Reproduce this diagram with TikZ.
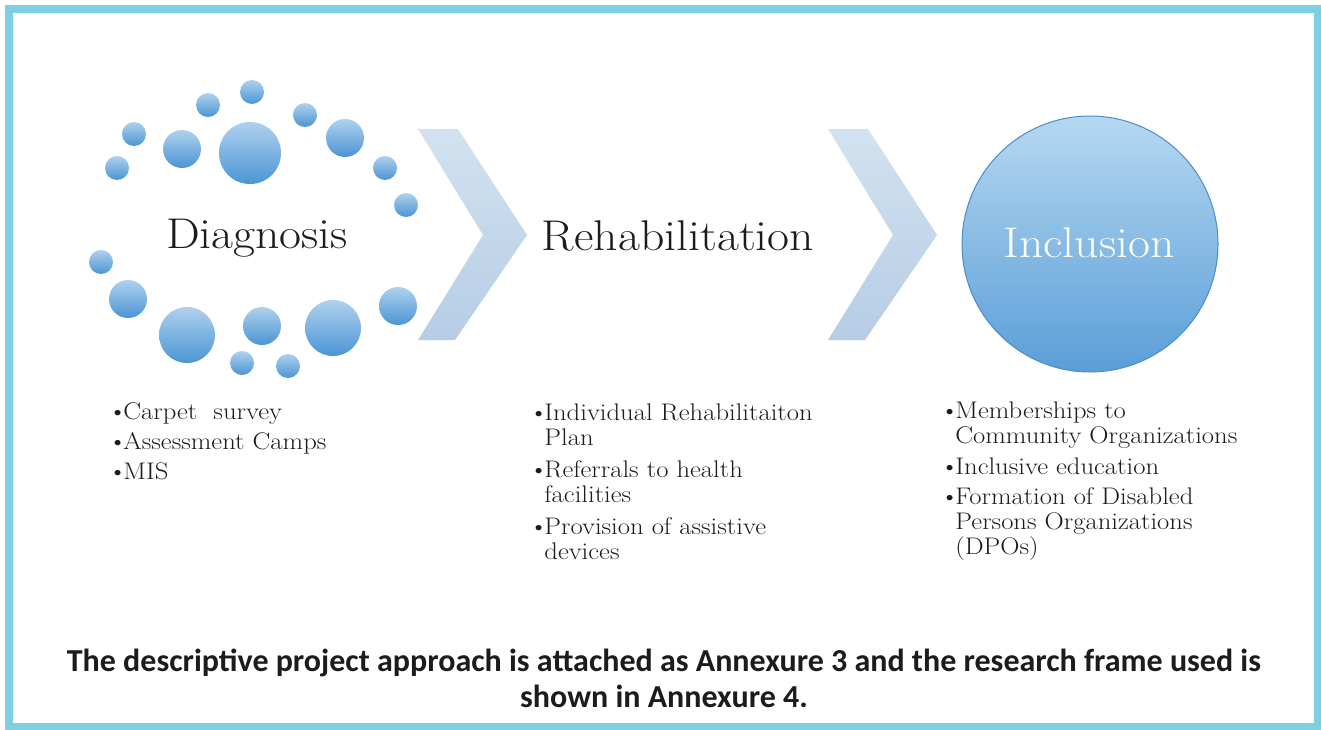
\documentclass[tikz,border=0pt]{standalone}
\usepackage{fontspec}
\newfontfamily\capfont{Carlito}
\newfontfamily\wideserif{Latin Modern Roman}[FakeStretch=1.11]
\usetikzlibrary{positioning}
\definecolor{framecol}{HTML}{7ECFE2}
\definecolor{bubtop}{HTML}{B0D1EE}
\definecolor{bubbot}{HTML}{4A95D4}
\definecolor{chevtop}{HTML}{D2E2F0}
\definecolor{chevbot}{HTML}{B6CDE6}
\definecolor{incltop}{HTML}{B6D8F1}
\definecolor{inclbot}{HTML}{5A9ED8}
\definecolor{inclrim}{HTML}{4C8CC9}
\definecolor{inktext}{HTML}{1C1C1C}
\tikzset{
 bubble/.style={top color=bubtop, bottom color=bubbot, draw=none},
 chevron/.style={top color=chevtop, bottom color=chevbot, draw=none},
 stage/.style={font=\wideserif\fontsize{43}{43}\selectfont, text=inktext, inner sep=0pt},
 points/.style={text=inktext, anchor=base west, inner sep=0pt},
}

\begin{document}
\begin{tikzpicture}[x=1pt,y=-1pt]
    \useasboundingbox (0,0) rectangle (1321,730);
    \fill[white] (0,0) rectangle (1321,730);
    \draw[framecol, line width=7.5pt] (9,9) rectangle (1318,727);

    % ring of bubbles round Diagnosis
    \foreach \x/\y/\r in {252/92/12, 208/105/12, 134/134/12, 117/168/12,
        182/149/19, 250/153/31, 305/115/12, 345/138/19, 385/168/12,
        406/205/12, 101/262/12, 128/299/19, 187/335/28, 262/326/19,
        333/328/28, 398/306/19, 242/363/12, 288/366/12}
        \shade[bubble] (\x,\y) circle (\r);

    % chevrons
    \shade[chevron] (418,129) -- (458,129) -- (527,235) -- (455,340)
        -- (418,340) -- (483,235) -- cycle;
    \shade[chevron] (828,129) -- (868,129) -- (937,235) -- (865,340)
        -- (828,340) -- (893,235) -- cycle;

    % big circle
    \shade[top color=incltop, bottom color=inclbot, draw=inclrim, line width=1pt]
        (1090,244) circle (128);

    \node[stage, anchor=base] (diag) at (257,248) {Diagnosis};
    \node[stage, anchor=base] (rehab) at (678,250) {Rehabilitation};
    \node[stage, anchor=base, text=white] (incl) at (1089,257) {Inclusion};

    \node[points, font=\wideserif\fontsize{24}{30}\selectfont] (diagpts) at (108,419) {%
        \begin{tabular}[t]{@{}l@{\hspace{-4pt}}l@{}}
        \textbullet & Carpet\ \ survey\\
        \textbullet & Assessment Camps\\
        \textbullet & MIS
        \end{tabular}};
    \node[points, font=\wideserif\fontsize{24}{25}\selectfont] (rehabpts) at (529,420) {%
        \begin{tabular}[t]{@{}l@{\hspace{-4pt}}l@{}}
        \textbullet & Individual Rehabilitaiton\\
         & Plan\\[7pt]
        \textbullet & Referrals to health\\
         & facilities\\[7pt]
        \textbullet & Provision of assistive\\
         & devices
        \end{tabular}};
    \node[points, font=\wideserif\fontsize{24}{25}\selectfont] (inclpts) at (940,418) {%
        \begin{tabular}[t]{@{}l@{\hspace{-4pt}}l@{}}
        \textbullet & Memberships to\\
         & Community Organizations\\[6pt]
        \textbullet & Inclusive education\\[5pt]
        \textbullet & Formation of Disabled\\
         & Persons Organizations\\
         & (DPOs)
        \end{tabular}};

    \node[anchor=base, align=center, inner sep=0pt, text=inktext,
        font=\capfont\bfseries\fontsize{32}{36}\selectfont] (note) at (664,707)
        {The descriptive project approach is attached as Annexure 3 and the research frame used is\\
         shown in Annexure 4.};
\end{tikzpicture}
\end{document}
